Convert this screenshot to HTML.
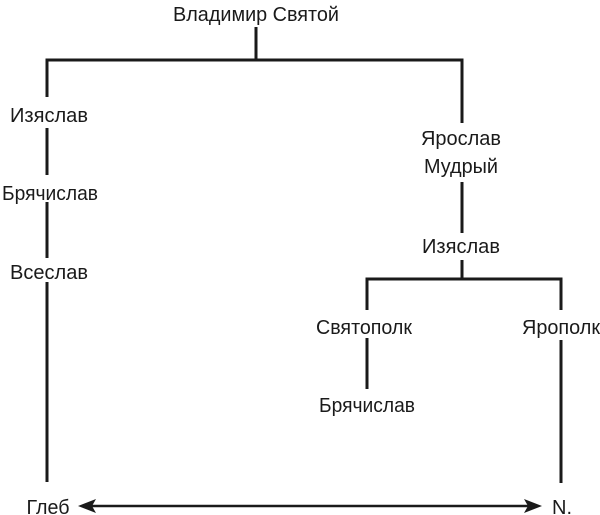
<!DOCTYPE html>
<html><head><meta charset="utf-8"><style>html,body{margin:0;padding:0;background:#fff}svg{display:block}</style></head>
<body>
<svg width="600" height="515" viewBox="0 0 600 515" xmlns="http://www.w3.org/2000/svg">
<g stroke="#1a1a1a" stroke-width="3" fill="none">
<path d="M256 27V60M47 97V60H462V123"/>
<path d="M47 128V175M47 202V258M47 282V482"/>
<path d="M462 182V233M462 260V279M367 310V279H561V310"/>
<path d="M367 338V389M561 340V483"/>
<path d="M92 506H530" stroke-width="2.5"/>
</g>
<g fill="#1a1a1a">
<polygon points="78,506 96,499 92,506 96,513"/>
<polygon points="542,506 524,499 528,506 524,513"/>
</g>
<g font-family="Liberation Sans, sans-serif" font-size="20.5" fill="#1a1a1a" text-anchor="middle">
<text x="256" y="21" textLength="166" lengthAdjust="spacingAndGlyphs">Владимир Святой</text>
<text x="49" y="122" textLength="78" lengthAdjust="spacingAndGlyphs">Изяслав</text>
<text x="50" y="200" textLength="96" lengthAdjust="spacingAndGlyphs">Брячислав</text>
<text x="49" y="279" textLength="78" lengthAdjust="spacingAndGlyphs">Всеслав</text>
<text x="48" y="514" textLength="43" lengthAdjust="spacingAndGlyphs">Глеб</text>
<text x="461" y="145" textLength="80" lengthAdjust="spacingAndGlyphs">Ярослав</text>
<text x="461" y="173" textLength="74" lengthAdjust="spacingAndGlyphs">Мудрый</text>
<text x="461" y="253" textLength="78" lengthAdjust="spacingAndGlyphs">Изяслав</text>
<text x="364" y="334" textLength="96" lengthAdjust="spacingAndGlyphs">Святополк</text>
<text x="561" y="334" textLength="78" lengthAdjust="spacingAndGlyphs">Ярополк</text>
<text x="367" y="412" textLength="96" lengthAdjust="spacingAndGlyphs">Брячислав</text>
<text x="562" y="514" textLength="20" lengthAdjust="spacingAndGlyphs">N.</text>
</g>
</svg>
</body></html>
